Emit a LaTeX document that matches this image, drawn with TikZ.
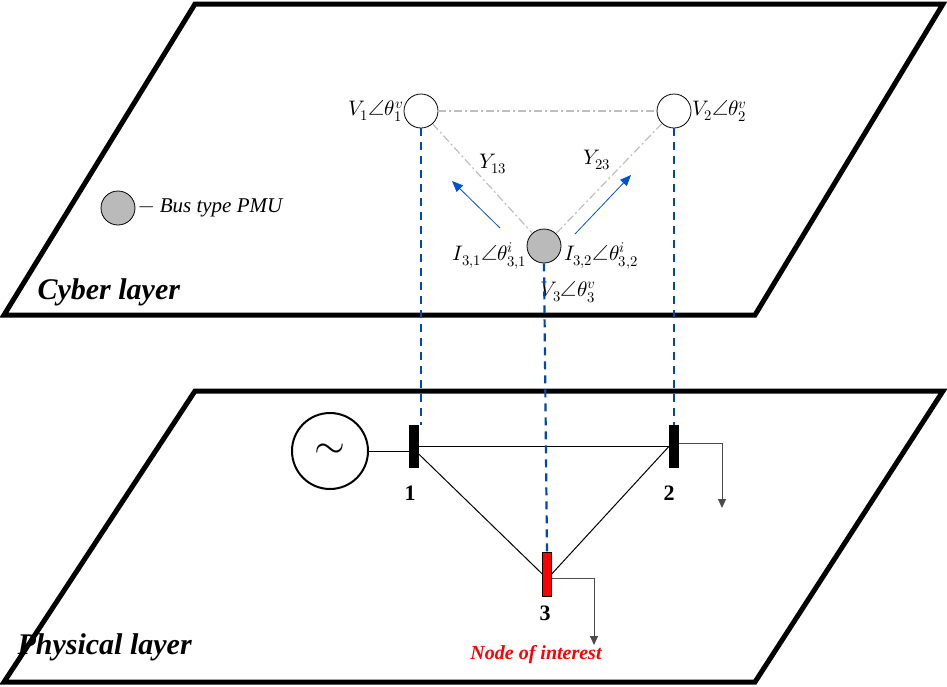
\documentclass[tikz,border=0pt]{standalone}
\usepackage{fontspec}
\usepackage{unicode-math}
\setmainfont{Liberation Serif}
\setmathfont{Latin Modern Math}
\usetikzlibrary{arrows.meta}
\begin{document}
\begin{tikzpicture}[x=1pt,y=-1pt,
 plane/.style={line width=5pt,line join=miter},
 bus/.style={circle,draw,thick,minimum size=34pt,inner sep=0pt},
 lbl/.style={font=\fontsize{21}{24}\selectfont,inner sep=1pt},
 bdash/.style={draw=blue!60!cyan!70!black,dashed,line width=2.2pt,dash pattern=on 8pt off 6pt},
 gdash/.style={draw=black!25,line width=1.2pt,dash pattern=on 8pt off 3pt on 2pt off 3pt},
 barb/.style={fill=black,draw=black,minimum width=9pt,minimum height=42pt,inner sep=0pt},
 load/.style={draw=black!70,line width=1pt,-{Triangle[length=9pt,width=8pt]}},
 cur/.style={draw=blue!60!cyan!80!black,line width=0.8pt,-{Triangle[length=11pt,width=9pt]}},
 title/.style={font=\fontsize{30}{32}\selectfont\bfseries\itshape,anchor=west}]
\useasboundingbox (0,0) rectangle (947,686);
\draw[plane] (195,4) -- (943,4) -- (755,315) -- (4,315) -- cycle;
\draw[plane] (195,391) -- (943,391) -- (755,682) -- (4,682) -- cycle;
\node[title] (cyl) at (34,292) {Cyber layer};
\node[title] (phl) at (14,647) {Physical layer};
% cyber
\node[bus] (c1) at (421,111) {};
\node[bus] (c2) at (674,111) {};
\node[bus,fill=black!27] (c3) at (544,246) {};
\node[bus,fill=black!27] (leg) at (118,208) {};
\node[lbl,anchor=west] (legt) at (137,208) {$-$ $\mathit{Bus\ type\ PMU}$};
\draw[gdash] (c1) -- (c2);
\draw[gdash] (c1) -- (c3);
\draw[gdash] (c2) -- (c3);
\node[lbl,anchor=east] (l1) at (404,111) {$V_1\angle\theta_1^v$};
\node[lbl,anchor=west] (l2) at (691,111) {$V_2\angle\theta_2^v$};
\node[lbl] (y13) at (493,164) {$Y_{13}$};
\node[lbl] (y23) at (597,160) {$Y_{23}$};
\coordinate (a1s) at (500,228); \coordinate (a1e) at (452,181);
\coordinate (a2s) at (575,234); \coordinate (a2e) at (631,175);
\draw[cur] (a1s) -- (a1e);
\draw[cur] (a2s) -- (a2e);
\node[lbl,anchor=east] (i31) at (528,256) {$I_{3,1}\angle\theta_{3,1}^i$};
\node[lbl,anchor=west] (i32) at (563,256) {$I_{3,2}\angle\theta_{3,2}^i$};
\node[lbl] (v3) at (568,292) {$V_3\angle\theta_3^v$};
% physical
\node[barb] (b1) at (414,446) {};
\node[barb] (b2) at (674,446) {};
\node[barb,fill=red,minimum height=44pt] (b3) at (547,574) {};
\node[circle,draw,line width=2pt,minimum size=76pt,inner sep=0pt] (gen) at (330,451) {\fontsize{40}{40}\selectfont$\sim$};
\draw[line width=1pt] (gen.east) -- (b1.west |- gen.east);
\draw[line width=1pt] (b1.east) -- (b2.west);
\draw[line width=1pt] (b1.east) ++(0,8) -- (b3.west);
\draw[line width=1pt] (b3.east) -- (b2.west);
\draw[load] (b2.east) ++(0,-3) -| (722,508);
\draw[load] (b3.east) ++(0,4) -| (594,645);
\node[font=\fontsize{22}{24}\selectfont\bfseries] (n1) at (410,493) {1};
\node[font=\fontsize{22}{24}\selectfont\bfseries] (n2) at (669,493) {2};
\node[font=\fontsize{22}{24}\selectfont\bfseries] (n3) at (545,613) {3};
\node[font=\fontsize{20}{22}\selectfont\bfseries\itshape,text=red] (noi) at (536,655) {Node of interest};
% dashed links
\draw[bdash] (c1.south) -- (c1.south |- b1.north);
\draw[bdash] (c2.south) -- (c2.south |- b2.north);
\draw[bdash] (c3.south) -- (b3.north);
\end{tikzpicture}
\end{document}
